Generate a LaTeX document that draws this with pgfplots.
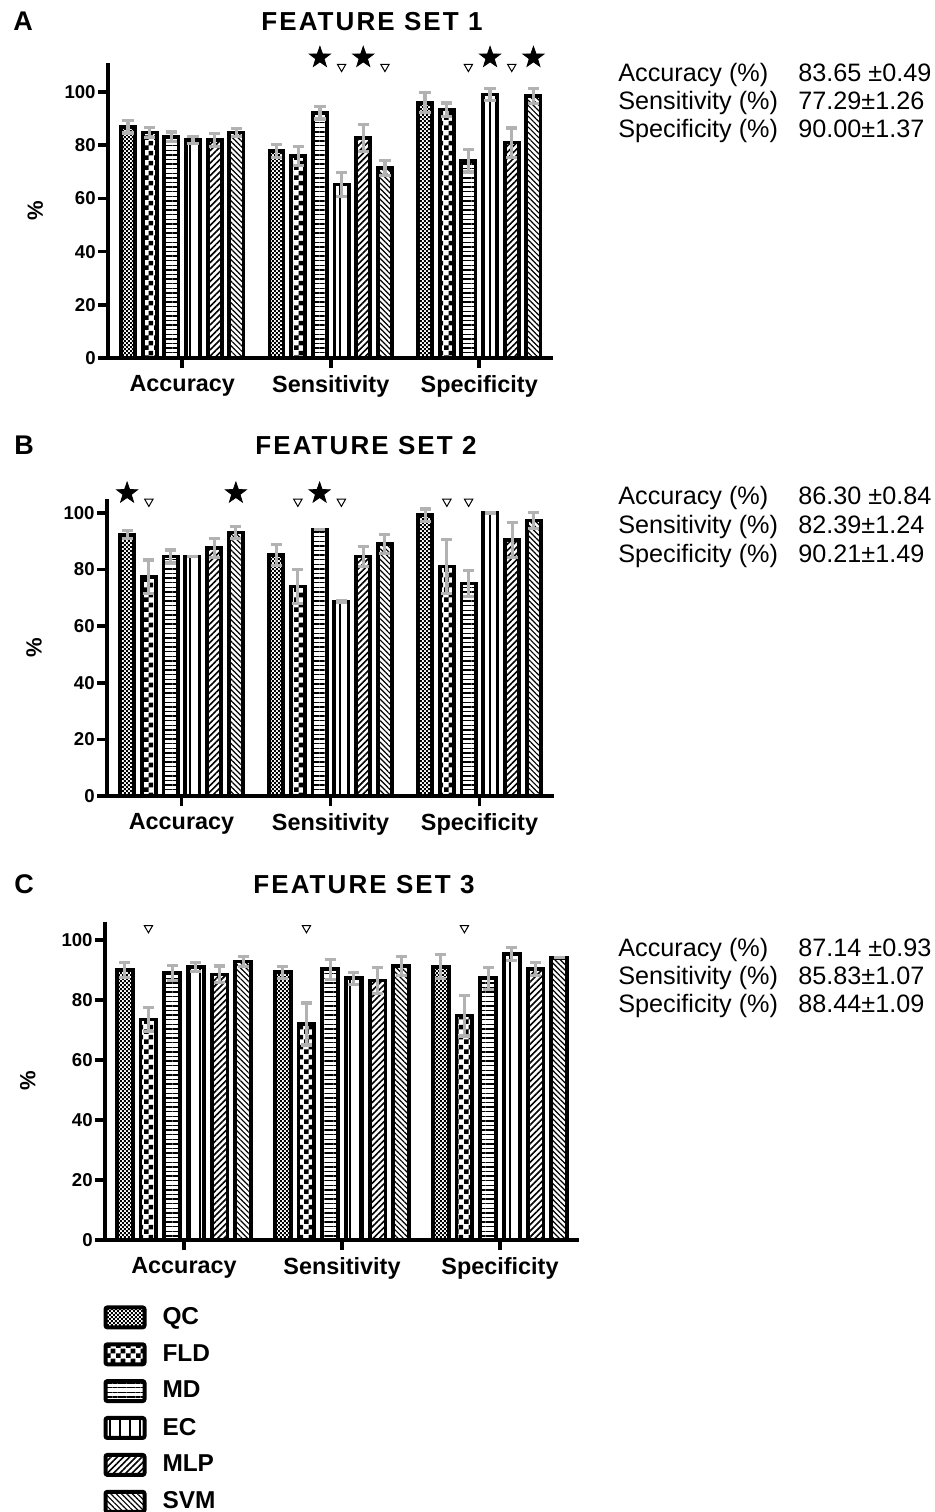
\documentclass[border=0pt]{standalone}
\usepackage{fontspec}
\setmainfont{Liberation Sans}
\usepackage{pgfplots}
\usepackage{pgfplotstable}
\pgfplotsset{compat=1.18}
\usetikzlibrary{patterns,patterns.meta}

% bar fill patterns
\pgfdeclarepattern{name=finechk, type=uncolored,
  bottom left={\pgfpoint{0pt}{0pt}}, top right={\pgfpoint{2.2pt}{2.2pt}},
  tile size={\pgfpoint{2.2pt}{2.2pt}},
  code={\pgfpathrectangle{\pgfpointorigin}{\pgfpoint{1.1pt}{1.1pt}}
        \pgfpathrectangle{\pgfpoint{1.1pt}{1.1pt}}{\pgfpoint{1.1pt}{1.1pt}}
        \pgfusepath{fill}}}
\pgfdeclarepattern{name=bigchk, type=uncolored,
  bottom left={\pgfpoint{0pt}{0pt}}, top right={\pgfpoint{4.8pt}{4.8pt}},
  tile size={\pgfpoint{4.8pt}{4.8pt}},
  code={\pgfpathrectangle{\pgfpointorigin}{\pgfpoint{2.4pt}{2.4pt}}
        \pgfpathrectangle{\pgfpoint{2.4pt}{2.4pt}}{\pgfpoint{2.4pt}{2.4pt}}
        \pgfusepath{fill}}}

% filled five-point star
\pgfdeclareplotmark{fstar}{%
  \pgfpathmoveto{\pgfpointpolar{90}{\pgfplotmarksize}}%
  \pgfpathlineto{\pgfpointpolar{126}{0.4\pgfplotmarksize}}%
  \pgfpathlineto{\pgfpointpolar{162}{\pgfplotmarksize}}%
  \pgfpathlineto{\pgfpointpolar{198}{0.4\pgfplotmarksize}}%
  \pgfpathlineto{\pgfpointpolar{234}{\pgfplotmarksize}}%
  \pgfpathlineto{\pgfpointpolar{270}{0.4\pgfplotmarksize}}%
  \pgfpathlineto{\pgfpointpolar{306}{\pgfplotmarksize}}%
  \pgfpathlineto{\pgfpointpolar{342}{0.4\pgfplotmarksize}}%
  \pgfpathlineto{\pgfpointpolar{18}{\pgfplotmarksize}}%
  \pgfpathlineto{\pgfpointpolar{54}{0.4\pgfplotmarksize}}%
  \pgfpathclose
  \pgfusepathqfillstroke}

\pgfplotsset{
  base/.style={
    scale only axis, ybar, bar width=0.095,
    xmin=-0.5, xmax=2.5, ymin=0,
    axis x line*=bottom, axis y line*=left,
    axis line style={line width=1.9pt, -},
    xtick={0,1,2}, xticklabels={Accuracy,Sensitivity,Specificity},
    ytick={0,20,...,100},
    tick align=outside, major tick length=5pt,
    tick style={line width=1.8pt, black},
    xticklabel style={font=\fontsize{11.7}{12}\selectfont\bfseries},
    yticklabel style={font=\fontsize{9.3}{10}\selectfont\bfseries, inner sep=1pt},
    /pgf/number format/assume math mode=true,
    ylabel={\%},
    ylabel style={font=\fontsize{11}{12}\selectfont\bfseries,
      at={(axis description cs:-0.163,0.5)}, anchor=center},
    clip=false,
  },
  ebar/.style={error bars/y dir=both, error bars/y explicit,
    error bars/error bar style={gray!60, line width=1.6pt},
    error bars/error mark options={gray!60, line width=1.6pt, mark size=2.8pt, rotate=90}},
  bx/.style={draw=black, line width=1.9pt, pattern color=black},
  qc/.style={bx, pattern=finechk},
  fld/.style={bx, pattern=bigchk},
  md/.style={bx, pattern={Lines[angle=0, distance=2.3pt, line width=0.7pt]}},
  ec/.style={bx, pattern={Lines[angle=90, distance=5pt, line width=0.9pt]}},
  mlp/.style={bx, pattern={Lines[angle=45, distance=2.2pt, line width=0.8pt]}},
  svm/.style={bx, pattern={Lines[angle=-45, distance=1.9pt, line width=0.6pt]}},
  legbox/.style={legend image code/.code={\draw[##1, line width=2pt, rounded corners=1pt] (0pt,-5pt) rectangle (19.5pt,5pt);}},
  star/.style={only marks, mark=fstar, mark size=5.5pt, mark options={fill=black, draw=black}, forget plot},
  tri/.style={only marks, mark=triangle, mark size=2.4pt, mark options={rotate=180, draw=black, fill=white, line width=0.5pt}, forget plot},
}

\pgfplotstableread{
g QC QCe FLD FLDe MD MDe EC ECe MLP MLPe SVM SVMe
0 87.0 2.4 84.8 2.0 83.2 1.8 82.0 1.3 81.9 2.5 84.8 1.5
1 77.9 2.5 76.0 3.5 92.2 2.3 65.2 4.5 82.7 5.0 71.4 2.8
2 96.0 3.8 93.4 2.5 74.2 4.3 99.1 2.3 81.0 5.5 98.4 2.8
}\setA
\pgfplotstableread{
g QC QCe FLD FLDe MD MDe EC ECe MLP MLPe SVM SVMe
0 92.3 1.4 77.5 5.9 84.6 2.3 84.6 0.0 87.6 3.4 93.1 2.2
1 85.2 3.7 74.0 6.0 94.1 0.0 68.6 0.3 84.6 3.5 89.1 3.4
2 99.2 2.2 81.1 9.5 75.1 4.6 100.0 0.0 90.5 6.1 97.3 2.8
}\setB
\pgfplotstableread{
g QC QCe FLD FLDe MD MDe EC ECe MLP MLPe SVM SVMe
0 90.0 2.5 73.5 4.0 88.9 2.5 91.1 1.5 88.5 2.8 92.8 1.7
1 89.2 2.0 72.0 7.0 90.2 3.3 87.2 2.0 86.5 4.3 91.3 3.2
2 91.1 4.0 74.8 6.8 87.2 3.7 95.4 2.2 90.4 2.2 94.1 0.0
}\setC

\newcommand\ttl{\fontsize{13}{14}\selectfont\bfseries\addfontfeature{LetterSpace=8}}
\newcommand\lett{\fontsize{13.5}{14}\selectfont\bfseries}
\newcommand\side{\fontsize{12.6}{14}\selectfont}

\begin{document}
\begin{tikzpicture}
\useasboundingbox (0,0) rectangle (467pt,756pt);

% ---------- A ----------
\begin{axis}[base, at={(54pt,577pt)}, anchor=south west,
  width=222.75pt, height=147.6pt, ymax=111]
\addplot[qc, ebar, bar shift=-0.365] table[x=g, y=QC, y error=QCe] {\setA};
\addplot[fld, ebar, bar shift=-0.219] table[x=g, y=FLD, y error=FLDe] {\setA};
\addplot[md, ebar, bar shift=-0.073] table[x=g, y=MD, y error=MDe] {\setA};
\addplot[ec, ebar, bar shift=0.073] table[x=g, y=EC, y error=ECe] {\setA};
\addplot[mlp, ebar, bar shift=0.219] table[x=g, y=MLP, y error=MLPe] {\setA};
\addplot[svm, ebar, bar shift=0.365] table[x=g, y=SVM, y error=SVMe] {\setA};
\addplot[star] coordinates {(0.927,113) (1.219,113) (2.073,113) (2.365,113)};
\addplot[tri] coordinates {(1.073,109.5) (1.365,109.5) (1.927,109.5) (2.219,109.5)};
\end{axis}

% ---------- B ----------
\begin{axis}[base, at={(53.5pt,358pt)}, anchor=south west,
  width=223.5pt, height=148.6pt, ymax=105]
\addplot[qc, ebar, bar shift=-0.365] table[x=g, y=QC, y error=QCe] {\setB};
\addplot[fld, ebar, bar shift=-0.219] table[x=g, y=FLD, y error=FLDe] {\setB};
\addplot[md, ebar, bar shift=-0.073] table[x=g, y=MD, y error=MDe] {\setB};
\addplot[ec, ebar, bar shift=0.073] table[x=g, y=EC, y error=ECe] {\setB};
\addplot[mlp, ebar, bar shift=0.219] table[x=g, y=MLP, y error=MLPe] {\setB};
\addplot[svm, ebar, bar shift=0.365] table[x=g, y=SVM, y error=SVMe] {\setB};
\addplot[star] coordinates {(-0.365,107) (0.365,107) (0.927,107)};
\addplot[tri] coordinates {(-0.219,104) (0.781,104) (1.073,104) (1.781,104) (1.927,104)};
\end{axis}

% ---------- C ----------
\begin{axis}[base, at={(52.5pt,136pt)}, anchor=south west,
  width=237pt, height=159pt, ymax=106, bar width=0.1,
  legend style={at={(rel axis cs:-0.004,-0.198)}, anchor=north west,
    draw=none, fill=none, inner sep=0pt,
    font=\fontsize{12.2}{14}\selectfont\bfseries, row sep=4.5pt, column sep=6pt,
    cells={anchor=west}}]
\addplot[qc, ebar, legbox, bar shift=-0.375] table[x=g, y=QC, y error=QCe] {\setC};
\addlegendentry{QC}
\addplot[fld, ebar, legbox, bar shift=-0.225] table[x=g, y=FLD, y error=FLDe] {\setC};
\addlegendentry{FLD}
\addplot[md, ebar, legbox, bar shift=-0.075] table[x=g, y=MD, y error=MDe] {\setC};
\addlegendentry{MD}
\addplot[ec, ebar, legbox, bar shift=0.075] table[x=g, y=EC, y error=ECe] {\setC};
\addlegendentry{EC}
\addplot[mlp, ebar, legbox, bar shift=0.225] table[x=g, y=MLP, y error=MLPe] {\setC};
\addlegendentry{MLP}
\addplot[svm, ebar, legbox, bar shift=0.375] table[x=g, y=SVM, y error=SVMe] {\setC};
\addlegendentry{SVM}
\addplot[tri] coordinates {(-0.225,104) (0.775,104) (1.775,104)};
\end{axis}

% titles and panel letters
\begin{scope}[every node/.style={inner sep=0pt}]
\node[anchor=base west, font=\lett] at (6.5pt,740.5pt) {A};
\node[anchor=base, font=\ttl] at (186pt,740.5pt) {FEATURE SET 1};
\node[anchor=base west, font=\lett] at (7pt,528.5pt) {B};
\node[anchor=base, font=\ttl] at (183pt,528.5pt) {FEATURE SET 2};
\node[anchor=base west, font=\lett] at (7pt,309pt) {C};
\node[anchor=base, font=\ttl] at (182pt,309pt) {FEATURE SET 3};
\end{scope}

% summary figures
\begin{scope}[every node/.style={anchor=base west, font=\side, inner sep=0pt}]
\node at (309pt,715pt) {Accuracy (\%)};    \node at (399pt,715pt) {83.65 ±0.49};
\node at (309pt,701pt) {Sensitivity (\%)}; \node at (399pt,701pt) {77.29±1.26};
\node at (309pt,687pt) {Specificity (\%)}; \node at (399pt,687pt) {90.00±1.37};
\node at (309pt,503.5pt) {Accuracy (\%)};    \node at (399pt,503.5pt) {86.30 ±0.84};
\node at (309pt,489pt) {Sensitivity (\%)};   \node at (399pt,489pt) {82.39±1.24};
\node at (309pt,474.5pt) {Specificity (\%)}; \node at (399pt,474.5pt) {90.21±1.49};
\node at (309pt,277.5pt) {Accuracy (\%)};    \node at (399pt,277.5pt) {87.14 ±0.93};
\node at (309pt,263.5pt) {Sensitivity (\%)}; \node at (399pt,263.5pt) {85.83±1.07};
\node at (309pt,249.5pt) {Specificity (\%)}; \node at (399pt,249.5pt) {88.44±1.09};
\end{scope}
\end{tikzpicture}
\end{document}
